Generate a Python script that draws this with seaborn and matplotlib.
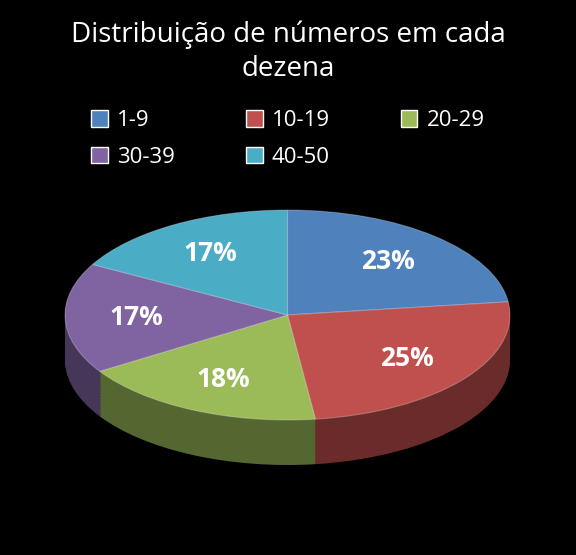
import matplotlib
matplotlib.use("Agg")
import matplotlib.pyplot as plt
import seaborn as sns
import numpy as np
from matplotlib.patches import Patch
from matplotlib.colors import to_rgb

categories = ["1-9", "10-19", "20-29", "30-39", "40-50"]
values = [23, 25, 18, 17, 17]
colors = ["#4F81BD", "#C0504D", "#9BBB59", "#8064A2", "#4BACC6"]
title = "Distribuição de números em cada\ndezena"

sns.set_theme(style="dark", rc={"figure.facecolor": "black", "axes.facecolor": "black"})
plt.rcParams['font.family'] = ['Open Sans', 'DejaVu Sans']

fig = plt.figure(figsize=(5.76, 5.55), dpi=100)
W, H = 576, 555
left, right, top, bottom = 65, 510, 210, 465
ry = 105
depth = 45 / ry
ax = fig.add_axes([left / W, (H - bottom) / H, (right - left) / W, (bottom - top) / H])

dark = [tuple(np.array(to_rgb(c)) * 0.55) for c in colors]
steps = 30
for k in range(steps, 0, -1):
    off = depth * k / steps
    ax.pie(values, colors=dark, startangle=90, counterclock=False, center=(0, -off),
           radius=1, wedgeprops=dict(linewidth=0))
wedges, texts, autotexts = ax.pie(values, colors=colors, startangle=90, counterclock=False,
                                  radius=1, autopct="%d%%", pctdistance=0.68,
                                  wedgeprops=dict(linewidth=0.8, edgecolor=(1, 1, 1, 0.25)),
                                  textprops=dict(color="white", fontsize=19, fontweight="bold"))
ax.set_aspect("auto")
ax.set_xlim(-1, 1)
ax.set_ylim(-1 - depth, 1)
ax.axis("off")

fig.text(0.5, 1 - 52 / H, title, ha="center", va="center", color="white", fontsize=20,
         linespacing=1.3)
handles = [Patch(facecolor=c, label=l) for c, l in zip(colors, categories)]
order = [0, 3, 1, 4, 2]
fig.legend(handles=[handles[i] for i in order], loc="center", bbox_to_anchor=(0.5, 1 - 139 / H),
           ncol=3, frameon=False, labelcolor="white", fontsize=16, handlelength=0.75,
           handleheight=0.75, columnspacing=3.2, handletextpad=0.4, labelspacing=0.7)
fig.savefig("out.png", dpi=100, facecolor="black")
